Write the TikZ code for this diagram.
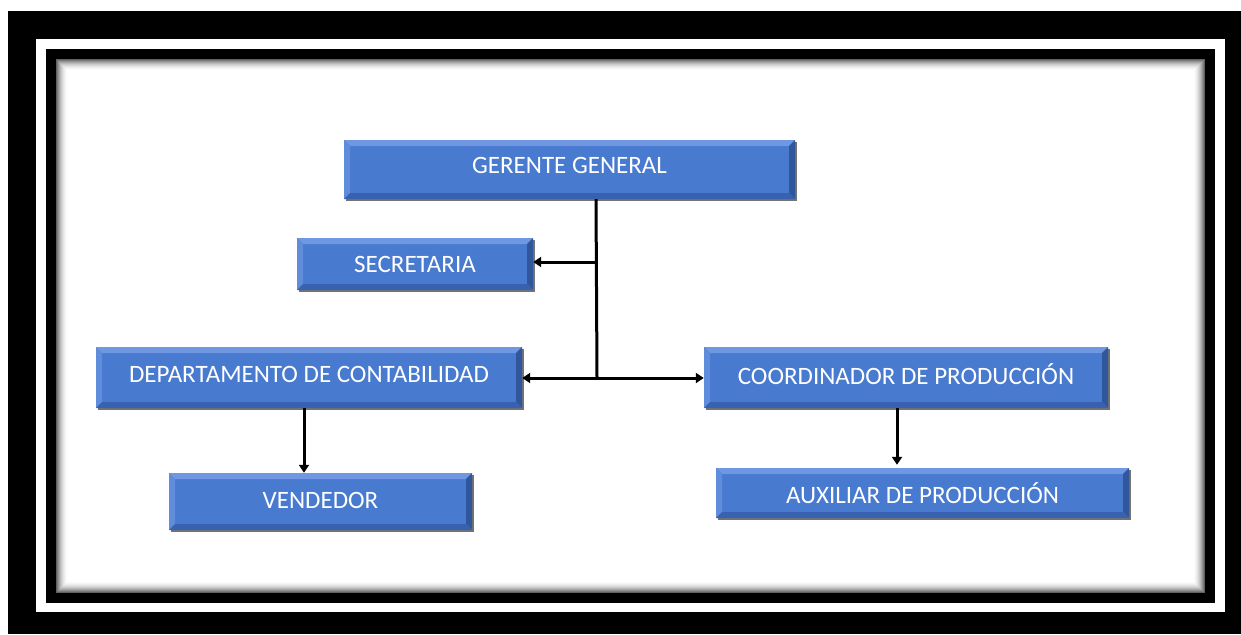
\documentclass[tikz,border=0pt]{standalone}
\usepackage{fontspec}
\setmainfont{Carlito}
\usetikzlibrary{arrows.meta,shadows}

\definecolor{boxblue}{RGB}{72,122,208}
\definecolor{bevtop}{RGB}{112,152,226}
\definecolor{bevleft}{RGB}{96,140,220}
\definecolor{bevright}{RGB}{48,86,156}
\definecolor{bevbottom}{RGB}{56,98,176}

\tikzset{
  orgbox/.style={
    draw=none, fill=boxblue, text=white, inner sep=0pt,
    font=\fontsize{25}{28}\selectfont,
    drop shadow={shadow xshift=1.5pt, shadow yshift=-1.5pt, opacity=0.55, fill=black},
    path picture={
      % bevelled edges of the button
      \fill[bevtop] (path picture bounding box.north west) -- (path picture bounding box.north east)
        -- ([shift={(-6pt,-6pt)}]path picture bounding box.north east)
        -- ([shift={(6pt,-6pt)}]path picture bounding box.north west) -- cycle;
      \fill[bevleft] (path picture bounding box.north west) -- (path picture bounding box.south west)
        -- ([shift={(6pt,6pt)}]path picture bounding box.south west)
        -- ([shift={(6pt,-6pt)}]path picture bounding box.north west) -- cycle;
      \fill[bevright] (path picture bounding box.north east) -- (path picture bounding box.south east)
        -- ([shift={(-6pt,6pt)}]path picture bounding box.south east)
        -- ([shift={(-6pt,-6pt)}]path picture bounding box.north east) -- cycle;
      \fill[bevbottom] (path picture bounding box.south west) -- (path picture bounding box.south east)
        -- ([shift={(-6pt,6pt)}]path picture bounding box.south east)
        -- ([shift={(6pt,6pt)}]path picture bounding box.south west) -- cycle;
    }
  },
  % lift the label above the box centre by half the given depth
  lifted/.style={text depth=#1},
  link/.style={line width=3pt, draw=black},
  arrowlink/.style={link, -{Triangle[length=8pt,width=10pt]}}
}

\begin{document}
\begin{tikzpicture}[x=1pt,y=-1pt]
\useasboundingbox (0,0) rectangle (1241,634);
\fill[white] (0,0) rectangle (1241,634);

% picture frame
\fill[black] (8,11) rectangle (1241,634);
\fill[white] (36,39) rectangle (1225,612);
\fill[black] (46,49) rectangle (1215,603);
\fill[white] (56,59) rectangle (1205,593);
% inner shadow of the frame, drawn as nested outlines getting lighter inwards
\foreach \i in {0,...,11}{
  \pgfmathsetmacro{\shadeval}{62*(1-\i/12)^2}
  \draw[line width=1.05pt, black!\shadeval]
    (56.5+\i,59.5+\i) rectangle (1204.5-\i,592.5-\i);
}

% boxes
\node[orgbox, lifted=8pt, minimum width=451pt, minimum height=59pt] (gg)  at (569.5,169.5) {GERENTE GENERAL};
\node[orgbox, minimum width=236pt, minimum height=52pt] (sec) at (415,264) {SECRETARIA};
\node[orgbox, lifted=7pt, minimum width=426pt, minimum height=61pt] (dep) at (309,377.5) {DEPARTAMENTO DE CONTABILIDAD};
\node[orgbox, lifted=7pt, minimum width=404pt, minimum height=61pt] (coo) at (906,377.5) {COORDINADOR DE PRODUCCIÓN};
\node[orgbox, lifted=2pt, minimum width=303pt, minimum height=57pt] (ven) at (320.5,501.5) {VENDEDOR};
\node[orgbox, minimum width=413pt, minimum height=50pt] (aux) at (922.5,493) {AUXILIAR DE PRODUCCIÓN};

% connectors
\coordinate (jsec) at (596,262);
\coordinate (jmid) at (597,378);
\draw[link] (gg.south -| jsec) -- (jmid);
\draw[arrowlink] (jsec) -- (sec.east |- jsec);
\draw[arrowlink] (jmid) -- (dep.east |- jmid);
\draw[arrowlink] (jmid) -- (coo.west |- jmid);
\draw[arrowlink] ([xshift=-5pt]dep.south) -- ([xshift=-16.5pt]ven.north);
\draw[arrowlink] ([xshift=-9pt]coo.south) -- ([xshift=-25.5pt,yshift=3pt]aux.north);
\end{tikzpicture}
\end{document}
